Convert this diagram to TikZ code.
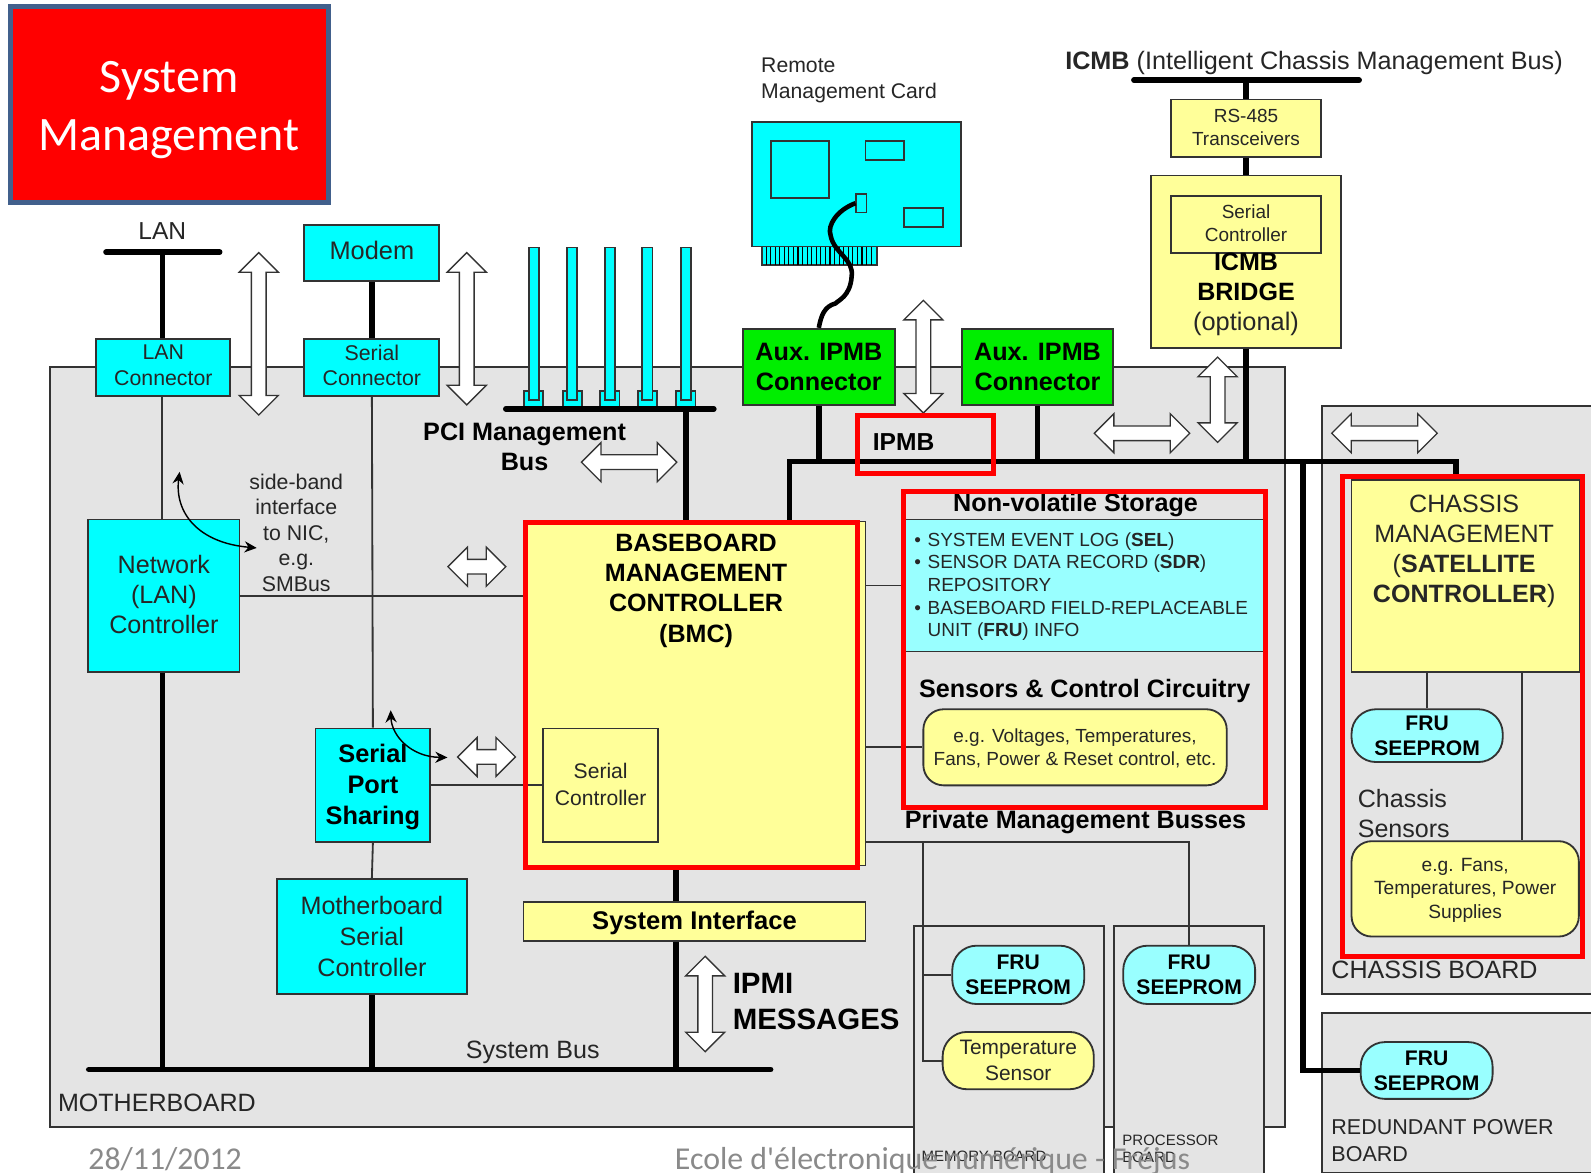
\documentclass[tikz,border=0pt]{standalone}
\usepackage{fontspec}
\setmainfont{Liberation Sans}
\newfontfamily\slidefont{Carlito}
\usetikzlibrary{arrows.meta,shapes.arrows}
\definecolor{boardgray}{HTML}{E4E4E4}
\definecolor{linegray}{HTML}{333333}
\definecolor{inkgray}{HTML}{262626}
\definecolor{footgray}{HTML}{8A8A8A}
\definecolor{cyanfill}{HTML}{00FFFF}
\definecolor{paleblue}{HTML}{99FFFF}
\definecolor{paleyellow}{HTML}{FFFF99}
\definecolor{auxgreen}{HTML}{00EE00}
\definecolor{titleblue}{HTML}{41608C}
\newcommand{\fsz}[1]{\fontsize{#1}{#1}\selectfont}
\tikzset{
  span/.style n args={4}{at={({(#1+#3)/2},{(#2+#4)/2})},
    minimum width={(#3-(#1))*1pt},minimum height={(#4-(#2))*1pt}},
  lift/.style={text depth=#1},
  blockbox/.style={draw=linegray,line width=1.8pt,inner sep=0pt,align=center,text=inkgray},
  cyanbox/.style={blockbox,fill=cyanfill},
  yellowbox/.style={blockbox,fill=paleyellow},
  greenbox/.style={blockbox,fill=auxgreen,text=black},
  pillbox/.style={blockbox,rounded corners=24pt},
  redframe/.style={draw=red,line width=5pt,inner sep=0pt},
  busline/.style={line width=5.5pt,line join=miter},
  thinline/.style={draw=linegray,line width=1.8pt},
  bendarrow/.style={line width=1.4pt,{Stealth[length=12pt,width=11pt]}-{Stealth[length=12pt,width=11pt]}},
  dblarrow/.style={double arrow,draw=linegray,fill=white,line width=1.3pt,inner sep=6.6pt,
    minimum width=38pt,double arrow head extend=12pt},
  txt/.style={inner sep=0pt,align=center,text=inkgray},
  lefttxt/.style={txt,align=left,anchor=west},
  boldtxt/.style={txt,text=black,font=\bfseries\fsz{24.8}},
  fru/.style={pillbox,fill=paleblue,text=black,font=\bfseries\fontsize{20.8}{24.5}\selectfont},
}
\begin{document}
\begin{tikzpicture}[x=1pt,y=-1pt]
  \useasboundingbox (0,0) rectangle (1568,1156);
  \fill[white] (0,0) rectangle (1568,1156);

  % boards
  \node[blockbox,fill=boardgray,span={49}{362}{1266}{1111}] (motherboard) {};
  \draw[thinline,fill=boardgray] (1568,400) -- (1303,400) -- (1303,980) -- (1568,980);
  \draw[thinline,fill=boardgray] (1568,998) -- (1303,998) -- (1303,1156) -- (1568,1156);
  \node[blockbox,fill=boardgray,span={900.5}{913}{1088}{1170}] (memboard) {};
  \node[blockbox,fill=boardgray,span={1097.5}{913}{1246}{1170}] (procboard) {};

  % bus end points
  \coordinate (lanL) at (104.5,248.5);
  \coordinate (lanR) at (216.5,248.5);
  \coordinate (lanT) at (160,248.5);
  \coordinate (sysL) at (87.5,1054);
  \coordinate (sysR) at (759.5,1054);
  \coordinate (pciL) at (498.5,403);
  \coordinate (pciR) at (703.5,403);
  \coordinate (ipmbL) at (778,455);
  \coordinate (ipmbR) at (1435,455);
  \coordinate (ipmbT) at (1284,455);
  \coordinate (icmbL) at (1117.5,79);
  \coordinate (icmbR) at (1339.5,79);
  \coordinate (pciT) at (676,403);
  \coordinate (sysT) at (666,1054);
  \coordinate (privL) at (910,829.5);
  \coordinate (privR) at (1172,829.5);
  \coordinate (sensT) at (1500,662);

  % left column
  \node[cyanbox,lift=4pt,span={95}{334}{227}{390},font=\fontsize{21}{25.5}\selectfont] (lanconn) {LAN\\Connector};
  \node[cyanbox,lift=6pt,span={300}{222}{433}{277},font=\fsz{25}] (modem) {Modem};
  \node[cyanbox,lift=4pt,span={300}{334}{433}{390},font=\fontsize{21}{25.5}\selectfont] (serconn) {Serial\\Connector};
  \node[cyanbox,lift=2pt,span={87}{512}{236}{662},font=\fontsize{24.8}{29.7}\selectfont] (netctl) {Network\\(LAN)\\Controller};
  \node[cyanbox,lift=1.3pt,span={311}{718}{424}{830},text=black,font=\bfseries\fontsize{25}{30.5}\selectfont] (portshare) {Serial\\Port\\Sharing};
  \node[cyanbox,span={273}{866}{460}{980},font=\fontsize{24.8}{30.5}\selectfont] (mbserial) {Motherboard\\Serial\\Controller};

  % centre blocks
  \node[yellowbox,span={516}{514}{853}{853}] (bmc) {};
  \node[yellowbox,lift=2pt,span={535.5}{718}{648.5}{830},font=\fontsize{20.8}{26}\selectfont] (bmcserial) {Serial\\Controller};
  \node[yellowbox,lift=3pt,span={516}{889}{853}{927},text=black,font=\bfseries\fsz{25.2}] (sysif) {System Interface};
  \node[blockbox,fill=paleblue,span={890}{512}{1247}{642}] (nvstore) {};
  \node[yellowbox,lift=1pt,span={910}{699}{1209}{774},rounded corners=20pt,font=\fontsize{18.7}{23}\selectfont] (sensctl) {e.g. Voltages, Temperatures,\\Fans, Power \& Reset control, etc.};

  % private bus devices
  \node[fru,span={938.5}{932}{1068.5}{989.5}] (frumem) {FRU\\SEEPROM};
  \node[yellowbox,pillbox,span={929}{1017}{1078}{1073.5},font=\fontsize{20.6}{25.5}\selectfont] (tempsens) {Temperature\\Sensor};
  \node[fru,span={1107}{932}{1237}{989.5}] (fruproc) {FRU\\SEEPROM};

  % top right
  \node[yellowbox,lift=2pt,span={1154}{98}{1302}{155},font=\fontsize{18.7}{23}\selectfont] (rsxcvr) {RS-485\\Transceivers};
  \node[yellowbox,span={1134}{173}{1322}{343}] (bridge) {};
  \node[yellowbox,lift=2pt,span={1154}{193}{1302}{249},font=\fontsize{18.7}{23}\selectfont] (bridgeserial) {Serial\\Controller};
  \node[greenbox,span={732}{324}{882}{399.5},font=\bfseries\fontsize{24.8}{29}\selectfont] (auxa) {Aux. IPMB\\Connector};
  \node[greenbox,span={948}{324}{1097}{399.5},font=\bfseries\fontsize{24.8}{29}\selectfont] (auxb) {Aux. IPMB\\Connector};

  % chassis and power boards
  \node[yellowbox,span={1332}{473}{1557}{662}] (chassisctl) {};
  \node[fru,span={1332}{699}{1481}{751}] (fruchassis) {FRU\\SEEPROM};
  \node[yellowbox,lift=1pt,span={1332}{829}{1556}{923},rounded corners=20pt,font=\fontsize{18.9}{23}\selectfont] (chassissens) {e.g. Fans,\\Temperatures, Power\\Supplies};
  \node[fru,span={1341}{1027}{1471}{1083}] (frupower) {FRU\\SEEPROM};

  % remote card
  \node[cyanbox,span={751}{243}{864}{261}] (cardedge) {};
  \foreach \x in {755,759.5,...,862}{
    \draw[line width=1.1pt] (\x,243) -- (\x,261);
  }
  \node[cyanbox,span={741}{120}{947}{243}] (card) {};
  \node[cyanbox,span={760}{139}{817}{195}] (chipa) {};
  \node[cyanbox,span={853}{139}{891}{158}] (chipb) {};
  \node[cyanbox,span={891}{205}{929}{224}] (chipc) {};
  \node[cyanbox,span={844}{191}{854}{209.5}] (cardjack) {};

  % PCI slots
  \foreach \x [count=\i] in {526,564,601,638,676}{
    \node[cyanbox,span={\x-9.5}{385}{\x+9.5}{401}] (socket\i) {};
    \node[cyanbox,span={\x-5}{244}{\x+5}{394}] (slot\i) {};
  }

  % heavy buses
  \draw[busline,line cap=round] (lanL) -- (lanR);
  \draw[busline,line cap=round] (sysL) -- (sysR);
  \draw[busline,line cap=round] (pciL) -- (pciR);
  \draw[busline,line cap=round] (icmbL) -- (icmbR);
  \draw[busline] (lanT) -- (lanT |- lanconn.north);
  \draw[busline] (modem.south) -- (serconn.north);
  \draw[busline] (lanT |- netctl.south) -- (lanT |- sysL);
  \draw[busline] (mbserial.south) -- (mbserial.south |- sysL);
  \draw[busline] (pciT) -- (pciT |- bmc.north);
  \draw[busline] (sysT |- bmc.south) -- (sysT |- sysif.north);
  \draw[busline] (sysT |- sysif.south) -- (sysT);
  \draw[busline] (ipmbL |- bmc.north) -- (ipmbL) -- (ipmbR) -- (ipmbR |- chassisctl.north);
  \draw[busline] (auxa.south) -- (auxa.south |- ipmbL);
  \draw[busline] (auxb.south) -- (auxb.south |- ipmbL);
  \draw[busline] (ipmbT) |- (frupower.west);
  \draw[busline] (bridge.south) -- (bridge.south |- ipmbL);
  \draw[busline] (rsxcvr.north) -- (rsxcvr.north |- icmbL);
  \draw[busline] (rsxcvr.south) -- (bridge.north);
  \draw[line width=4.5pt] (cardjack.west) .. controls (825,207) and (815,222) .. (818.6,232)
    .. controls (822,250) and (842,255) .. (839.3,272.7)
    .. controls (838,292) and (826,296) .. (823.5,299)
    .. controls (812,302) and (809,312) .. (auxa.north);

  % thin lines
  \draw[thinline] (lanT |- lanconn.south) -- (lanT |- netctl.north);
  \draw[thinline] (serconn.south) -- (portshare.north);
  \draw[thinline] (portshare.south) -- (mbserial.north);
  \draw[thinline] (netctl.east) -- (netctl.east -| bmc.west);
  \draw[thinline] (portshare.east |- bmcserial.west) -- (bmcserial.west);
  \draw[thinline] (nvstore.west -| bmc.east) -- (nvstore.west);
  \draw[thinline] (sensctl.west -| bmc.east) -- (sensctl.west);
  \draw[thinline] (privL -| bmc.east) -- (privR) -- (fruproc.north);
  \draw[thinline] (privL) -- (privL |- tempsens.west) -- (tempsens.west);
  \draw[thinline] (privL |- frumem.west) -- (frumem.west);
  \draw[thinline] (fruchassis.north) -- (fruchassis.north |- chassisctl.south);
  \draw[thinline] (sensT) -- (sensT |- chassissens.north);

  % bent arrows
  \coordinate (bandtop) at (177,465);
  \coordinate (bandend) at (253,540);
  \coordinate (sertop) at (385,700);
  \coordinate (serend) at (441,746.5);
  \draw[bendarrow] (bandtop) .. controls (172,505) and (195,535) .. (bandend);
  \draw[bendarrow] (sertop) .. controls (386,725) and (405,746) .. (serend);

  % open arrows
  \foreach \n/\x/\y/\len in {va/255/329/160,vb/460/324/150,vc/910/351.5/111,vd/1200/394/84,ve/695/989.5/94}{
    \node[dblarrow,rotate=90,minimum height=\len pt] (\n) at (\x,\y) {};
  }
  \foreach \n/\x/\y/\len in {ha/620/455.5/94,hb/470/558.5/57,hc/479.5/746/57,hd/1125.5/427/94,he/1364.5/427/104}{
    \node[dblarrow,minimum height=\len pt] (\n) at (\x,\y) {};
  }

  % labels
  \node[txt,font=\fsz{24.2}] (lantext) at (160,228) {LAN};
  \node[lefttxt,font=\fontsize{20.9}{26}\selectfont] (cardtext) at (750,79.5) {Remote\\Management Card};
  \node[txt,font=\fsz{24.85}] (icmbtext) at (1295,62) {\textbf{ICMB} (Intelligent Chassis Management Bus)};
  \node[txt,font=\bfseries\fontsize{24.7}{29.5}\selectfont,text=black] (bridgename) at (1228,272.5) {ICMB\\BRIDGE};
  \node[txt,font=\fsz{25}] (bridgeopt) at (1228,319) {(optional)};
  \node[boldtxt,align=center,font=\bfseries\fontsize{24.8}{30}\selectfont] (pcitext) at (517,440.5) {PCI Management\\Bus};
  \node[txt,font=\fontsize{21}{25}\selectfont] (bandtext) at (292,525) {side-band\\interface\\to NIC,\\e.g.\\SMBus};
  \node[txt,text=black,font=\bfseries\fontsize{24.7}{30}\selectfont] (bmctext) at (686,582) {BASEBOARD\\MANAGEMENT\\CONTROLLER\\(BMC)};
  \node[txt,text=black,font=\bfseries\fsz{24.2}] (ipmbtext) at (890.5,435.5) {IPMB};
  \node[boldtxt] (nvtext) at (1060,498) {Non-volatile Storage};
  \node[lefttxt,font=\fontsize{18.7}{22.3}\selectfont] (nvlist) at (901,578) {%
    \makebox[13pt][l]{\textbullet}SYSTEM EVENT LOG (\textbf{SEL})\\
    \makebox[13pt][l]{\textbullet}SENSOR DATA RECORD (\textbf{SDR})\\
    \makebox[13pt][l]{}REPOSITORY\\
    \makebox[13pt][l]{\textbullet}BASEBOARD FIELD-REPLACEABLE\\
    \makebox[13pt][l]{}UNIT (\textbf{FRU}) INFO};
  \node[boldtxt] (sensortext) at (1069,681) {Sensors \& Control Circuitry};
  \node[boldtxt] (privtext) at (1060,810) {Private Management Busses};
  \node[txt,font=\fontsize{24.7}{29.7}\selectfont] (chassistext) at (1443,543.5) {CHASSIS\\MANAGEMENT\\(\textbf{SATELLITE}\\\textbf{CONTROLLER})};
  \node[lefttxt,font=\fontsize{24.7}{29.5}\selectfont] (sensortextb) at (1338,801.5) {Chassis\\Sensors};
  \node[lefttxt,font=\fsz{24.7}] (chassisboard) at (1312,956) {CHASSIS BOARD};
  \node[lefttxt,font=\fontsize{21.2}{26}\selectfont] (powerboard) at (1312,1124) {REDUNDANT POWER\\BOARD};
  \node[lefttxt,text=black,font=\bfseries\fontsize{29}{35}\selectfont] (ipmitext) at (722,987) {IPMI\\MESSAGES};
  \node[txt,font=\fsz{24.7}] (busstext) at (525,1037) {System Bus};
  \node[lefttxt,font=\fsz{24.7}] (mbtext) at (57,1087) {MOTHERBOARD};
  \node[lefttxt,font=\fsz{14.8}] (memtext) at (908,1140) {MEMORY BOARD};
  \node[lefttxt,font=\fontsize{14.8}{17}\selectfont] (proctext) at (1106,1132.5) {PROCESSOR\\BOARD};

  % red highlights
  \node[redframe,span={518}{515}{845}{855}] (markbmc) {};
  \node[redframe,span={845.5}{409.5}{979.5}{467}] (markipmb) {};
  \node[redframe,span={890}{484}{1247}{795.5}] (markstore) {};
  \node[redframe,span={1323}{470}{1560}{943}] (markchassis) {};

  % slide parts
  \node[draw=titleblue,fill=red,line width=5pt,inner sep=0pt,span={10.5}{6.5}{323.5}{199.5}] (title) {};
  \node[inner sep=0pt,text=white,align=center,font=\slidefont\fontsize{47.3}{57}\selectfont] (titletext) at (166.5,108.5) {System\\Management};
  \node[text=footgray,inner sep=0pt,anchor=west,font=\slidefont\fsz{31.3}] (datetext) at (87,1142.5) {28/11/2012};
  \node[text=footgray,inner sep=0pt,anchor=west,font=\slidefont\fsz{31.4}] (foottext) at (665,1144) {Ecole d'électronique numérique - Fréjus};
\end{tikzpicture}
\end{document}
